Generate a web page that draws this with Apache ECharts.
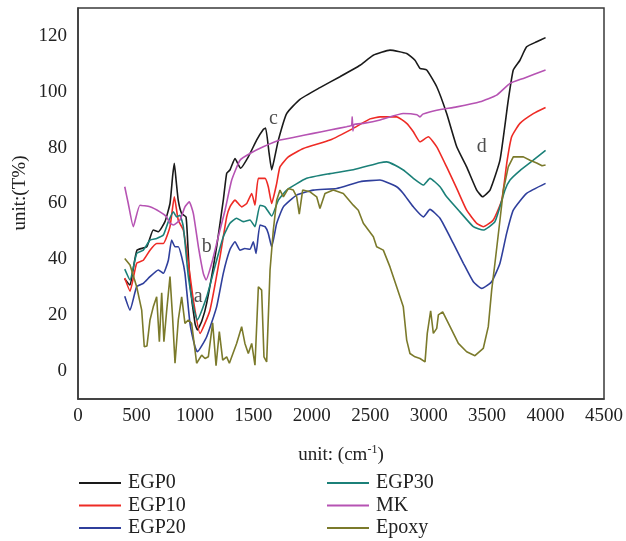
<!DOCTYPE html>
<html>
<head>
<meta charset="utf-8">
<script src="https://cdn.jsdelivr.net/npm/echarts@6/dist/echarts.min.js"></script>
<style>
  html, body { margin: 0; padding: 0; background: #fff; }
  #chart { width: 626px; height: 541px; }
</style>
</head>
<body>
<div id="chart"></div>
<script>
// FTIR spectra, [wavenumber, transmittance]
const egp0 = [[400,33],[445,30.8],[470,36],[505,43.3],[588,44.5],[644,50.5],[687,49.9],[744,53.5],[787,60],[810,70],[824,74.4],[840,68],[858,61],[887,56.4],[924,55.2],[940,45],[958,31.5],[1001,17.1],[1021,14.7],[1060,18],[1101,24.3],[1186,44.5],[1243,61.2],[1272,70.8],[1300,72],[1343,76.1],[1391,72.6],[1457,76.7],[1528,82.7],[1585,86.5],[1605,87],[1635,78],[1657,72],[1680,76],[1714,82.7],[1785,92.2],[1899,97.3],[2070,101.5],[2241,105.4],[2413,109.5],[2526,113.1],[2669,114.9],[2812,113.7],[2883,111.3],[2926,108.4],[2983,107.8],[3069,101.8],[3154,92.2],[3240,80.3],[3325,73.1],[3411,64.8],[3462,62.4],[3525,64.8],[3610,75.5],[3681,97],[3724,107.8],[3781,111.3],[3838,116.1],[3924,117.9],[4000,119.4]]

const egp10 = [[400,33.3],[445,28.6],[502,38.6],[559,39.7],[616,43.3],[673,45.7],[730,45.7],[787,51.7],[824,62.4],[858,54],[901,50.5],[940,40],[987,25.4],[1044,13.5],[1129,21.8],[1215,40.9],[1272,55.2],[1300,58.8],[1343,61.2],[1400,58.8],[1443,60],[1486,63.6],[1514,59.4],[1543,69],[1600,69],[1628,66],[1657,60],[1700,67.2],[1728,73.1],[1799,76.7],[1928,79.7],[2156,82.7],[2355,86.9],[2498,90.3],[2584,91],[2726,91],[2812,88.7],[2869,85.7],[2926,82.1],[2997,83.9],[3069,80.3],[3154,73.1],[3240,65.4],[3325,57.6],[3411,52.9],[3467,51.7],[3553,54.1],[3625,61.2],[3670,75],[3710,83.9],[3781,88.7],[3895,92.2],[4000,94.4]]

const egp20 = [[400,26.8],[445,21.8],[502,30.2],[559,31.4],[616,33.8],[687,36.2],[730,35],[773,39.7],[801,46.9],[830,44.5],[858,44.5],[887,40.9],[915,35],[958,17.1],[1001,8.7],[1021,6.9],[1101,12.3],[1186,23],[1243,35],[1300,43.5],[1343,46.3],[1386,43.3],[1428,43.9],[1471,43.6],[1500,46.3],[1523,42.1],[1557,52.3],[1600,51.7],[1628,49.3],[1657,44.5],[1700,52.9],[1757,58.8],[1871,63],[2013,64.8],[2213,65.4],[2413,67.8],[2584,68.4],[2641,67.6],[2726,66],[2783,63.6],[2869,58.8],[2955,55.2],[3011,57.9],[3097,54.7],[3211,45.7],[3297,38.6],[3382,32],[3454,29.6],[3539,32],[3610,38.6],[3667,49.3],[3724,57.6],[3838,63.6],[4000,67.2]]

const egp30 = [[400,36.5],[445,32.6],[502,42.1],[559,43.3],[616,46.9],[673,47.5],[730,48.7],[773,53.5],[816,57],[844,55.2],[872,55.8],[901,51.7],[944,33.8],[987,23],[1021,18.3],[1101,26.6],[1186,39.7],[1243,48.1],[1300,52.9],[1357,54.7],[1414,53.5],[1471,54.1],[1514,51.7],[1557,59.4],[1600,58.8],[1657,55.5],[1714,61.2],[1785,64.8],[1956,69],[2156,70.7],[2355,72.1],[2584,74.6],[2641,74.9],[2783,72],[2869,69],[2955,66.6],[3011,69],[3097,66],[3154,62.4],[3268,57],[3382,51.7],[3467,50.5],[3567,53.5],[3653,64.8],[3696,68.4],[3781,71.8],[3895,75.5],[4000,79]]

const mk = [[400,66],[430,60],[473,51.7],[530,59.4],[616,58.8],[701,57],[759,55.2],[787,52.9],[816,52.3],[872,54.1],[915,58.8],[952,60.6],[987,56.4],[1030,44.5],[1072,35],[1095,32.6],[1144,38.6],[1200,48.1],[1258,57.6],[1315,68.4],[1386,75.5],[1471,77.9],[1585,80.3],[1728,82.7],[1871,83.9],[2013,85.1],[2156,86.3],[2298,87.5],[2340,88],[2346,91],[2352,86],[2362,88.3],[2441,88.7],[2584,89.9],[2783,92.2],[2900,91.8],[2926,91],[2950,92],[3069,93.4],[3240,94.6],[3439,96.4],[3582,98.8],[3696,103],[3810,104.8],[4000,107.8]]

const epoxy = [[400,40.3],[445,38],[502,30.2],[545,21.8],[567,8.7],[590,9],[616,18.3],[644,23],[673,26.6],[696,10.5],[716,28],[735,10.5],[759,21.8],[787,33.8],[809,19.4],[830,2.8],[858,18.3],[887,26.6],[915,17.1],[944,18.3],[972,17.1],[1001,7.5],[1015,2.8],[1058,5.7],[1087,4.5],[1115,5.1],[1152,17.3],[1181,1.9],[1209,14.1],[1238,3.9],[1272,5.1],[1295,2.8],[1357,9.9],[1400,15.9],[1428,9.9],[1457,6.3],[1486,9.9],[1514,2.1],[1543,30.2],[1571,29],[1591,5.1],[1614,3.3],[1643,36.2],[1671,50.5],[1700,61.2],[1728,64.8],[1757,62.4],[1800,65.4],[1842,64.8],[1871,62.4],[1893,56.2],[1922,64.8],[1985,64.2],[2042,62.4],[2070,58.2],[2113,63.6],[2184,64.8],[2270,63.6],[2355,59.4],[2398,57.6],[2441,52.9],[2484,50.5],[2527,48.1],[2555,44.5],[2612,43.3],[2669,37.3],[2726,30.2],[2783,23],[2812,11.1],[2840,6.3],[2883,5.1],[2926,4.5],[2969,3.3],[2988,13.5],[3017,21.6],[3040,13.5],[3069,15.3],[3083,20.1],[3120,21.2],[3183,15.9],[3254,9.9],[3325,6.9],[3396,5.5],[3467,8.1],[3510,15.9],[3539,29],[3567,38.6],[3610,54.1],[3639,64.8],[3681,73.1],[3724,76.7],[3810,76.7],[3867,75.5],[3924,74.5],[3970,73.5],[4000,73.8]]

// peak labels a-d
const marks = [[1029,26.6,'a'],[1101,44.5,'b'],[1671,90.5,'c'],[3454,80.3,'d']]

const names = ['EGP0','EGP10','EGP20','EGP30','MK','Epoxy']
const colors = ['#1a1a1a','#ee2b25','#2f3f9c','#1b8078','#b653b3','#7b7a2b']
const spectra = [egp0, egp10, egp20, egp30, mk, epoxy]

const font = 'Liberation Serif'

let chart = echarts.init(document.getElementById('chart'))

let series = spectra.map((d, i) => ({
    name: names[i],
    type: 'line',
    data: d,
    symbol: 'none',
    smooth: i === 5 ? false : 0.15,
    lineStyle: { width: 1.6, color: colors[i] },
    itemStyle: { color: colors[i] },
    z: 2
}))

series.push({
    type: 'scatter',
    data: marks.map(m => ({ value: [m[0], m[1]], name: m[2] })),
    symbolSize: 0,
    silent: true,
    label: {
        show: true,
        position: 'inside',
        formatter: p => p.name,
        fontFamily: font,
        fontSize: 20,
        color: '#222'
    },
    z: 5
})

const legendText = { fontFamily: font, fontSize: 20, color: '#222', lineHeight: 20, padding: [0, 0, 0, 2] }

chart.setOption({
    animation: false,
    grid: {
        left: 78, right: 22, top: 8, bottom: 142,
        show: true, borderColor: '#3a3a3a', borderWidth: 1.5
    },
    xAxis: {
        type: 'value',
        min: 0, max: 4500, interval: 500,
        name: 'unit: (cm{sup|-1})',
        nameLocation: 'middle',
        nameGap: 45,
        nameTextStyle: {
            fontFamily: font, fontSize: 19, color: '#222',
            rich: { sup: { fontFamily: font, fontSize: 12, color: '#222', verticalAlign: 'top', padding: [0, 0, 10, 0] } }
        },
        axisLine: { show: true, onZero: false, lineStyle: { color: '#3a3a3a', width: 1.5 } },
        axisTick: { show: false },
        splitLine: { show: false },
        axisLabel: { fontFamily: font, fontSize: 19, color: '#222', margin: 8, formatter: v => String(v) }
    },
    yAxis: {
        type: 'value',
        min: -10, max: 130, interval: 10,
        axisLine: { show: true, onZero: false, lineStyle: { color: '#3a3a3a', width: 1.5 } },
        axisTick: { show: false },
        splitLine: { show: false },
        axisLabel: {
            fontFamily: font, fontSize: 19, color: '#222', margin: 11,
            formatter: v => (v >= 0 && v <= 120 && v % 20 === 0) ? String(v) : ''
        }
    },
    legend: [
        {
            data: names.slice(0, 3), orient: 'vertical', left: 79, top: 473, padding: 0,
            itemWidth: 42, itemHeight: 2, itemGap: 2.5, icon: 'rect', textStyle: legendText
        },
        {
            data: names.slice(3), orient: 'vertical', left: 327, top: 473, padding: 0,
            itemWidth: 42, itemHeight: 2, itemGap: 2.5, icon: 'rect', textStyle: legendText
        }
    ],
    graphic: [{
        type: 'text',
        x: 20, y: 193,
        rotation: Math.PI / 2,
        style: {
            text: 'unit:(T%)',
            font: '19px "Liberation Serif"',
            fill: '#222',
            textAlign: 'center',
            textVerticalAlign: 'middle'
        }
    }],
    series: series
})
</script>
</body>
</html>
